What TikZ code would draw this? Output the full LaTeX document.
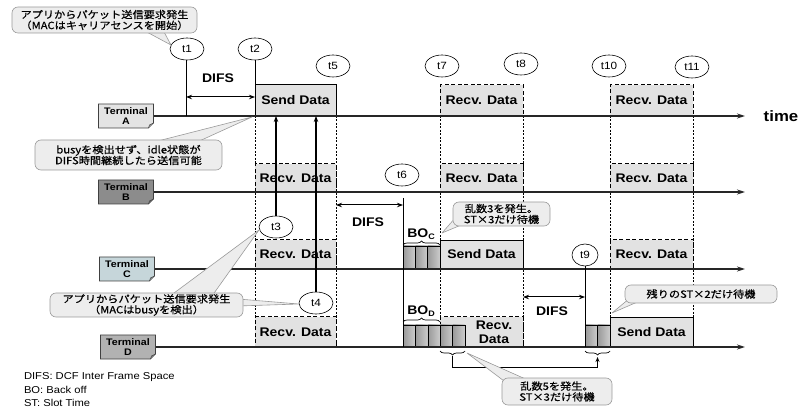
\documentclass[tikz,border=0pt]{standalone}
\usepackage{fontspec}
\setmainfont[FakeStretch=1.12]{Liberation Sans}
\newfontfamily\jp[FakeStretch=1.12,FakeBold=0.6]{Noto Sans CJK JP}
\usetikzlibrary{arrows.meta,shapes.geometric,decorations.pathreplacing,calc,backgrounds}
\definecolor{dbox}{HTML}{E2E2E2}
\definecolor{cfill}{HTML}{EDEDED}
\definecolor{cline}{HTML}{9A9A9A}
\definecolor{termA}{HTML}{E4E4E4}
\definecolor{termB}{HTML}{8C8C8C}
\definecolor{termC}{HTML}{C6D6DA}
\definecolor{termD}{HTML}{B2B2B2}
\newcommand\termshape[2]{\filldraw[fill=#2,draw=black!75,line width=0.6pt]
  (#1.north west) -- (#1.north east) -- ($(#1.south east)+(0,-5)$) -- ($(#1.south east)+(-5,0)$) -- (#1.south west) -- cycle;
  \draw[black!75,line width=0.5pt] ($(#1.south east)+(0,-5)$) -- ($(#1.south east)+(-4,-3)$) -- ($(#1.south east)+(-5,0)$);}
\begin{document}
\begin{tikzpicture}[x=1pt,y=-1pt,
  every node/.style={inner sep=0pt,outer sep=0pt},
  sz/.style 2 args={minimum width=#1pt,minimum height=#2pt},
  lab/.style={font=\bfseries\fontsize{12.5}{14}\selectfont},
  sendbox/.style={draw=black,line width=0.8pt,fill=dbox,lab},
  recvbox/.style={draw=black,line width=1pt,dash pattern=on 4pt off 2.5pt,fill=dbox,lab},
  term/.style={minimum width=55pt,minimum height=24pt,align=center,font=\bfseries\fontsize{9.5}{10.5}\selectfont},
  tc/.style={minimum width=34pt,minimum height=22pt,font=\fontsize{10.5}{11}\selectfont},
  tcshape/.style={draw=black,line width=0.6pt,fill=white},
  tline/.style={line width=1.3pt,black!85,-{Stealth[length=8pt,width=5pt]}},
  dv/.style={line width=0.8pt,dash pattern=on 2pt off 1.5pt},
  vl/.style={line width=0.8pt},
  uparr/.style={line width=1.1pt,-{Stealth[length=6pt,width=4.5pt]}},
  difs/.style={line width=1pt,{Stealth[length=6pt,width=4.5pt]}-{Stealth[length=6pt,width=4.5pt]}},
  slot/.style={draw=black,line width=0.6pt,left color=gray!80,right color=gray!40},
  brc/.style={decorate,decoration={brace,amplitude=4pt},line width=0.7pt},
  conn/.style={line width=0.8pt,-{Stealth[length=5pt,width=4pt]}},
  callout/.style={draw=cline,fill=cfill,rounded corners=6pt,line width=0.6pt,align=center,font=\jp\fontsize{10}{10.8}\selectfont},
  tailst/.style={draw=cline,fill=cfill,line width=0.6pt,line join=round}
]
\useasboundingbox (0,0) rectangle (800,411);

% terminals
\node[term] (tA) at (126,116) {Terminal\\A};
\node[term] (tB) at (126,192) {Terminal\\B};
\node[term] (tC) at (127,269) {Terminal\\C};
\node[term] (tD) at (128,347) {Terminal\\D};
\begin{scope}[on background layer]
  \termshape{tA}{termA}
  \termshape{tB}{termB}
  \termshape{tC}{termC}
  \termshape{tD}{termD}
\end{scope}

\coordinate (eA) at (745,116);
\coordinate (eB) at (745,192);
\coordinate (eC) at (745,269);
\coordinate (eD) at (745,347);

% dashed verticals
\foreach \x in {255,336,440,523,610,693} \draw[dv] (\x,116) -- (\x,347);

% data boxes
\node[sendbox,sz={81}{32}] (sA) at (295.5,100) {Send Data};
\node[recvbox,sz={83}{31}] (rA1) at (481.5,100.5) {Recv. Data};
\node[recvbox,sz={83}{31}] (rA2) at (651.5,100.5) {Recv. Data};
\node[recvbox,sz={81}{28}] (rB1) at (295.5,178) {Recv. Data};
\node[recvbox,sz={83}{28}] (rB2) at (481.5,178) {Recv. Data};
\node[recvbox,sz={83}{28}] (rB3) at (651.5,178) {Recv. Data};
\node[recvbox,sz={81}{29}] (rC1) at (295.5,254.5) {Recv. Data};
\node[sendbox,sz={83}{29}] (sC) at (481.5,254.5) {Send Data};
\node[recvbox,sz={83}{29}] (rC2) at (651.5,254.5) {Recv. Data};
\node[recvbox,sz={81}{30}] (rD1) at (295.5,332) {Recv. Data};
\node[recvbox,sz={83}{30}] (rD2) at (481.5,332) {};
\node[lab,align=center] (rD2t) at (494,332) {Recv.\\Data};
\node[sendbox,sz={83}{30}] (sD) at (651.5,332) {Send Data};

% back-off slots
\foreach \i in {0,1,2} \draw[slot] ({403+\i*12.33},246) rectangle ++(12.33,23);
\foreach \i in {0,...,4} \draw[slot] ({403+\i*12.4},325) rectangle ++(12.4,22);
\foreach \i in {0,1} \draw[slot] ({585+\i*12.5},325) rectangle ++(12.5,22);

% timelines
\draw[tline] (tA.east) -- (eA);
\draw[tline] (tB.east) -- (eB);
\draw[tline] (tC.east) -- (eC);
\draw[tline] (tD.east) -- (eD);
\node[font=\bfseries\fontsize{15}{15}\selectfont] (time) at (781,116) {time};

% time circles (ellipse outlines drawn behind the labels)
\node[tc] (t1) at (187,49) {t1};
\node[tc] (t2) at (255,49) {t2};
\node[tc] (t5) at (333,66) {t5};
\node[tc] (t7) at (442,66) {t7};
\node[tc] (t8) at (521,64) {t8};
\node[tc] (t10) at (609,66) {t10};
\node[tc] (t11) at (692,67) {t11};
\node[tc] (t6) at (402,175) {t6};
\node[tc] (t3) at (276,227) {t3};
\node[tc] (t4) at (316,303) {t4};
\node[tc,minimum width=26pt] (t9) at (585,255) {t9};
\begin{scope}[on background layer]
  \foreach \n in {t1,t2,t5,t7,t8,t10,t11,t6,t3,t4}
    \filldraw[tcshape] (\n.center) ellipse [x radius=17pt, y radius=11pt];
  \filldraw[tcshape] (t9.center) ellipse [x radius=13pt, y radius=11pt];
\end{scope}

% vertical markers
\coordinate (t1b) at (186,116);
\draw[vl] (t1.south -| t1b) -- (t1b);
\draw[vl] (t2.south) -- (sA.north west);
\draw[uparr] (t3.north) -- (t3.north |- sA.south);
\draw[uparr] (t4.north) -- (t4.north |- sA.south);
\coordinate (t6a) at (403,198);
\coordinate (t6b) at (403,347);
\draw[vl] (t6a) -- (t6b);
\coordinate (t9b) at (585,347);
\draw[vl] (t9.south) -- (t9b);

% DIFS
\coordinate (dA1) at (186,97); \coordinate (dA2) at (255,97);
\draw[difs] (dA1) -- (dA2);
\node[lab] (dA) at (218,78) {DIFS};
\coordinate (dC1) at (336,205); \coordinate (dC2) at (403,205);
\draw[difs] (dC1) -- (dC2);
\node[lab] (dC) at (368,222) {DIFS};
\coordinate (dD1) at (523,297); \coordinate (dD2) at (585,297);
\draw[difs] (dD1) -- (dD2);
\node[lab] (dD) at (552,311) {DIFS};

% braces
\draw[brc] (403,245) -- (440,245);
\node[lab] (boc) at (421,234) {BO{\fontsize{8}{8}\selectfont\raisebox{-2.5pt}{C}}};
\draw[brc] (403,322) -- (440,322);
\node[lab] (bod) at (421,311) {BO{\fontsize{8}{8}\selectfont\raisebox{-2.5pt}{D}}};
\draw[brc] (465,351) -- (440,351);
\draw[brc] (610,351) -- (585,351);
\coordinate (bt1) at (452.5,356);
\coordinate (bt2) at (597.5,357);
\draw[conn] (bt1) -- (452.5,367) -| (bt2);

% callouts
\fill[tailst] (143,30) -- (171,45) -- (163,30) -- cycle;
\node[callout,sz={185}{26}] (n1) at (104.5,20) {アプリからパケット送信要求発生\\（MACはキャリアセンスを開始）};

\fill[tailst] (150,143) -- (252,117) -- (195,143) -- cycle;
\node[callout,sz={187}{30}] (n2) at (128.5,155) {busyを検出せず、idle状態が\\DIFS時間継続したら送信可能};

\fill[tailst] (170,296) -- (259,230) -- (212,296) -- cycle;
\fill[tailst] (238,299) -- (299,304) -- (238,306) -- cycle;
\node[callout,sz={193}{24}] (n3) at (146.5,305) {アプリからパケット送信要求発生\\（MACはbusyを検出）};

\fill[tailst] (456,217) -- (442,233) -- (466,223) -- cycle;
\node[callout,sz={97}{24}] (n4) at (501.5,214) {乱数3を発生。\\ST×3だけ待機};

\fill[tailst] (508,384) -- (467,353) -- (530,381) -- cycle;
\node[callout,sz={110}{27}] (n5) at (557,391.5) {乱数5を発生。\\ST×3だけ待機};

\fill[tailst] (630,298) -- (612,313) -- (642,300) -- cycle;
\node[callout,sz={152}{18}] (n6) at (701,294) {残りのST×2だけ待機};

% legend
\node[anchor=west,font=\fontsize{10}{10}\selectfont] (lg1) at (24,377) {DIFS: DCF Inter Frame Space};
\node[anchor=west,font=\fontsize{10}{10}\selectfont] (lg2) at (24,390) {BO: Back off};
\node[anchor=west,font=\fontsize{10}{10}\selectfont] (lg3) at (24,403) {ST: Slot Time};
\end{tikzpicture}
\end{document}
